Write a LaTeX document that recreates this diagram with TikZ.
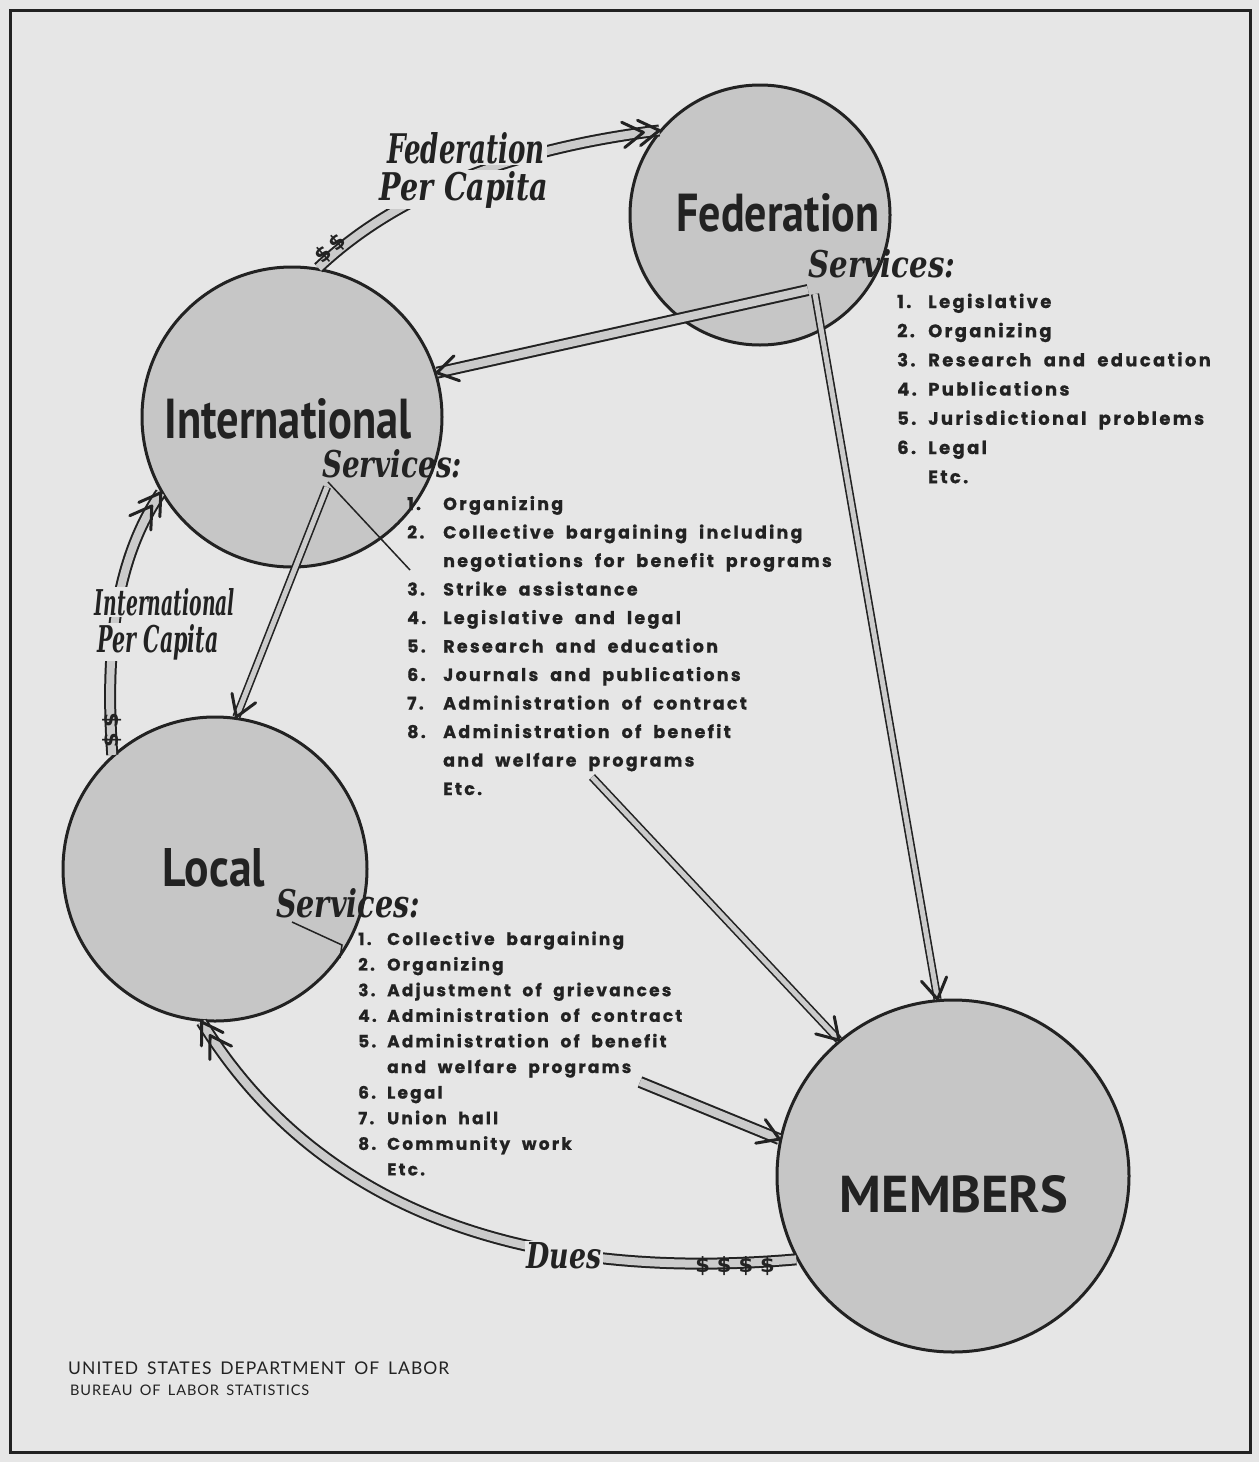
\documentclass[tikz,border=0pt]{standalone}
\usepackage{fontspec}
\usepackage{graphicx}
\usetikzlibrary{calc}
\newfontfamily\headfont{PT Sans}
\newfontfamily\listfont{Poppins}[LetterSpace=13,WordSpace=2,FakeBold=0.8]
\newfontfamily\deptfont{Lato}[LetterSpace=6,WordSpace=1.6]
\newfontfamily\dollarfont{DejaVu Sans}
\newfontfamily\scrfont{DejaVu Serif}
\newcommand\scr{\scrfont\bfseries\itshape}
\definecolor{bg}{HTML}{E6E6E6}
\definecolor{discfill}{HTML}{C6C6C6}
\definecolor{shaftgray}{HTML}{CBCBCB}
\definecolor{ink}{HTML}{222222}
\newcommand\chevtip[2]{\draw[chev] ($(#1)!24pt!32:(#2)$) -- (#1) -- ($(#1)!24pt!-32:(#2)$);}
\newcommand\dchevtip[2]{\chevtip{#1}{#2}\coordinate (tmpB) at ($(#1)!16pt!(#2)$);\chevtip{tmpB}{#2}}
\begin{document}
\begin{tikzpicture}[x=1pt,y=-1pt,
  disc/.style={circle, draw=ink, line width=3pt, fill=discfill, inner sep=0pt},
  shaft/.style={draw=ink, line width=2pt, double=shaftgray, double distance=8pt},
  thinshaft/.style={draw=ink, line width=1.6pt, double=shaftgray, double distance=5pt},
  chev/.style={draw=ink, line width=3pt, line cap=round, line join=round},
  pointer/.style={draw=ink, line width=1.5pt},
  mask/.style={fill=bg, inner sep=1.5pt, text=ink, anchor=base},
  scrlbl/.style={inner sep=0pt, text=ink, anchor=base},
  plain/.style={inner sep=0pt, text=ink},
  fedlist/.style={inner sep=0pt, text=ink, anchor=base west, font=\listfont\bfseries\fontsize{18}{20}\selectfont},
  intlist/.style={inner sep=0pt, text=ink, anchor=base west, font=\listfont\bfseries\fontsize{17.5}{20}\selectfont},
  loclist/.style={inner sep=0pt, text=ink, anchor=base west, font=\listfont\bfseries\fontsize{17}{20}\selectfont},
  dollar/.style={inner sep=0pt, text=ink, font=\dollarfont\bfseries\fontsize{21}{21}\selectfont}
]
\useasboundingbox (0,0) rectangle (1259,1462);
\fill[bg] (0,0) rectangle (1259,1462);
\draw[ink, line width=3pt] (10,10) rectangle (1250,1452);

% circles
\node[disc, minimum size=260pt] (fed) at (760,215) {};
\node[disc, minimum size=300pt] (intl) at (292,417) {};
\node[disc, minimum size=304pt] (local) at (215,869) {};
\node[disc, minimum size=352pt] (mem) at (953,1176) {};

% free ends
\coordinate (fs1) at (808,290);
\coordinate (fs2) at (815,294);
\coordinate (is1) at (327,487);
\coordinate (il1) at (592,777);
\coordinate (ll1) at (640,1082);

% per capita / dues curves
\draw[shaft] (intl.80) .. controls (390,200) and (500,150) .. (fed.140.4);
\dchevtip{fed.140.4}{500,150}
\draw[shaft] (local.132.6) .. controls (105,650) and (115,560) .. (intl.210.6);
\dchevtip{intl.210.6}{115,560}
\draw[shaft] (mem.208) .. controls (560,1280) and (330,1230) .. (local.265.5);
\dchevtip{local.265.5}{330,1230}

% service arrows
\draw[shaft] (fs1) -- (intl.17.3);
\chevtip{intl.17.3}{fs1}
\draw[thinshaft] (fs2) -- (mem.95.6);
\chevtip{mem.95.6}{fs2}
\draw[thinshaft] (is1) -- (local.82.7);
\chevtip{local.82.7}{is1}
\draw[thinshaft] (il1) -- (mem.130.8);
\chevtip{mem.130.8}{il1}
\draw[shaft] (ll1) -- (mem.168);
\chevtip{mem.168}{ll1}

% pointer lines
\coordinate (ip1) at (328,482);
\coordinate (ip2) at (410,570);
\draw[pointer] (ip1) -- (ip2);
\coordinate (lp1) at (292,922);
\coordinate (lp2) at (342,945);
\coordinate (lp3) at (340,958);
\draw[pointer] (lp1) -- (lp2) -- (lp3);

% dollar signs
\node[dollar, rotate=42] (d1) at (331,249) {\$\kern4pt\$};
\node[dollar, rotate=90] (d2) at (112,730) {\$\kern5pt\$};
\node[dollar] (d3) at (735,1266) {\$\kern7pt\$\kern7pt\$\kern7pt\$};

% headings
\node[plain] (fedlbl) at (778,213) {\resizebox{203pt}{38pt}{\headfont\bfseries Federation}};
\node[plain] (intllbl) at (288,419) {\resizebox{247pt}{40pt}{\headfont\bfseries International}};
\node[plain] (loclbl) at (214,868) {\resizebox{102pt}{38pt}{\headfont\bfseries Local}};
\node[plain] (memlbl) at (954,1194) {\resizebox{228pt}{37pt}{\headfont\bfseries MEMBERS}};

% script labels
\node[mask] (fpc1) at (466,163) {\resizebox{158pt}{31pt}{\scr Federation}};
\node[mask] (fpc2) at (464,200) {\resizebox{168pt}{29pt}{\scr Per Capita}};
\node[mask] (ipc1) at (165,615) {\resizebox{140pt}{27pt}{\scr International}};
\node[mask] (ipc2) at (158,652) {\resizebox{121pt}{28pt}{\scr Per Capita}};
\node[mask] (dues) at (564,1268) {\resizebox{75pt}{26pt}{\scr Dues}};
\node[scrlbl] (fsvc) at (882,277) {\resizebox{147pt}{28pt}{\scr Services:}};
\node[scrlbl] (isvc) at (392,477) {\resizebox{140pt}{28pt}{\scr Services:}};
\node[scrlbl] (lsvc) at (348,917) {\resizebox{144pt}{29pt}{\scr Services:}};

% lists
\foreach \n/\t [count=\i] in {1./Legislative,2./Organizing,3./Research and education,4./Publications,5./Jurisdictional problems,6./Legal,/Etc.}
  \node[fedlist] (fl\i) at (897,{308+29.2*(\i-1)}) {\makebox[31pt][l]{\n}\t};
\foreach \n/\t [count=\i] in {1./Organizing,2./Collective bargaining including,/negotiations for benefit programs,3./Strike assistance,4./Legislative and legal,5./Research and education,6./Journals and publications,7./Administration of contract,8./Administration of benefit,/and welfare programs,/Etc.}
  \node[intlist] (il\i) at (407,{510+28.5*(\i-1)}) {\makebox[36pt][l]{\n}\t};
\foreach \n/\t [count=\i] in {1./Collective bargaining,2./Organizing,3./Adjustment of grievances,4./Administration of contract,5./Administration of benefit,/and welfare programs,6./Legal,7./Union hall,8./Community work,/Etc.}
  \node[loclist] (ll\i) at (358,{945+25.6*(\i-1)}) {\makebox[29pt][l]{\n}\t};

% department
\node[plain, anchor=base west] (dept1) at (68,1374) {\resizebox{381pt}{!}{\deptfont UNITED STATES DEPARTMENT OF LABOR}};
\node[plain, anchor=base west] (dept2) at (70,1395) {\resizebox{239pt}{!}{\deptfont BUREAU OF LABOR STATISTICS}};
\end{tikzpicture}
\end{document}
